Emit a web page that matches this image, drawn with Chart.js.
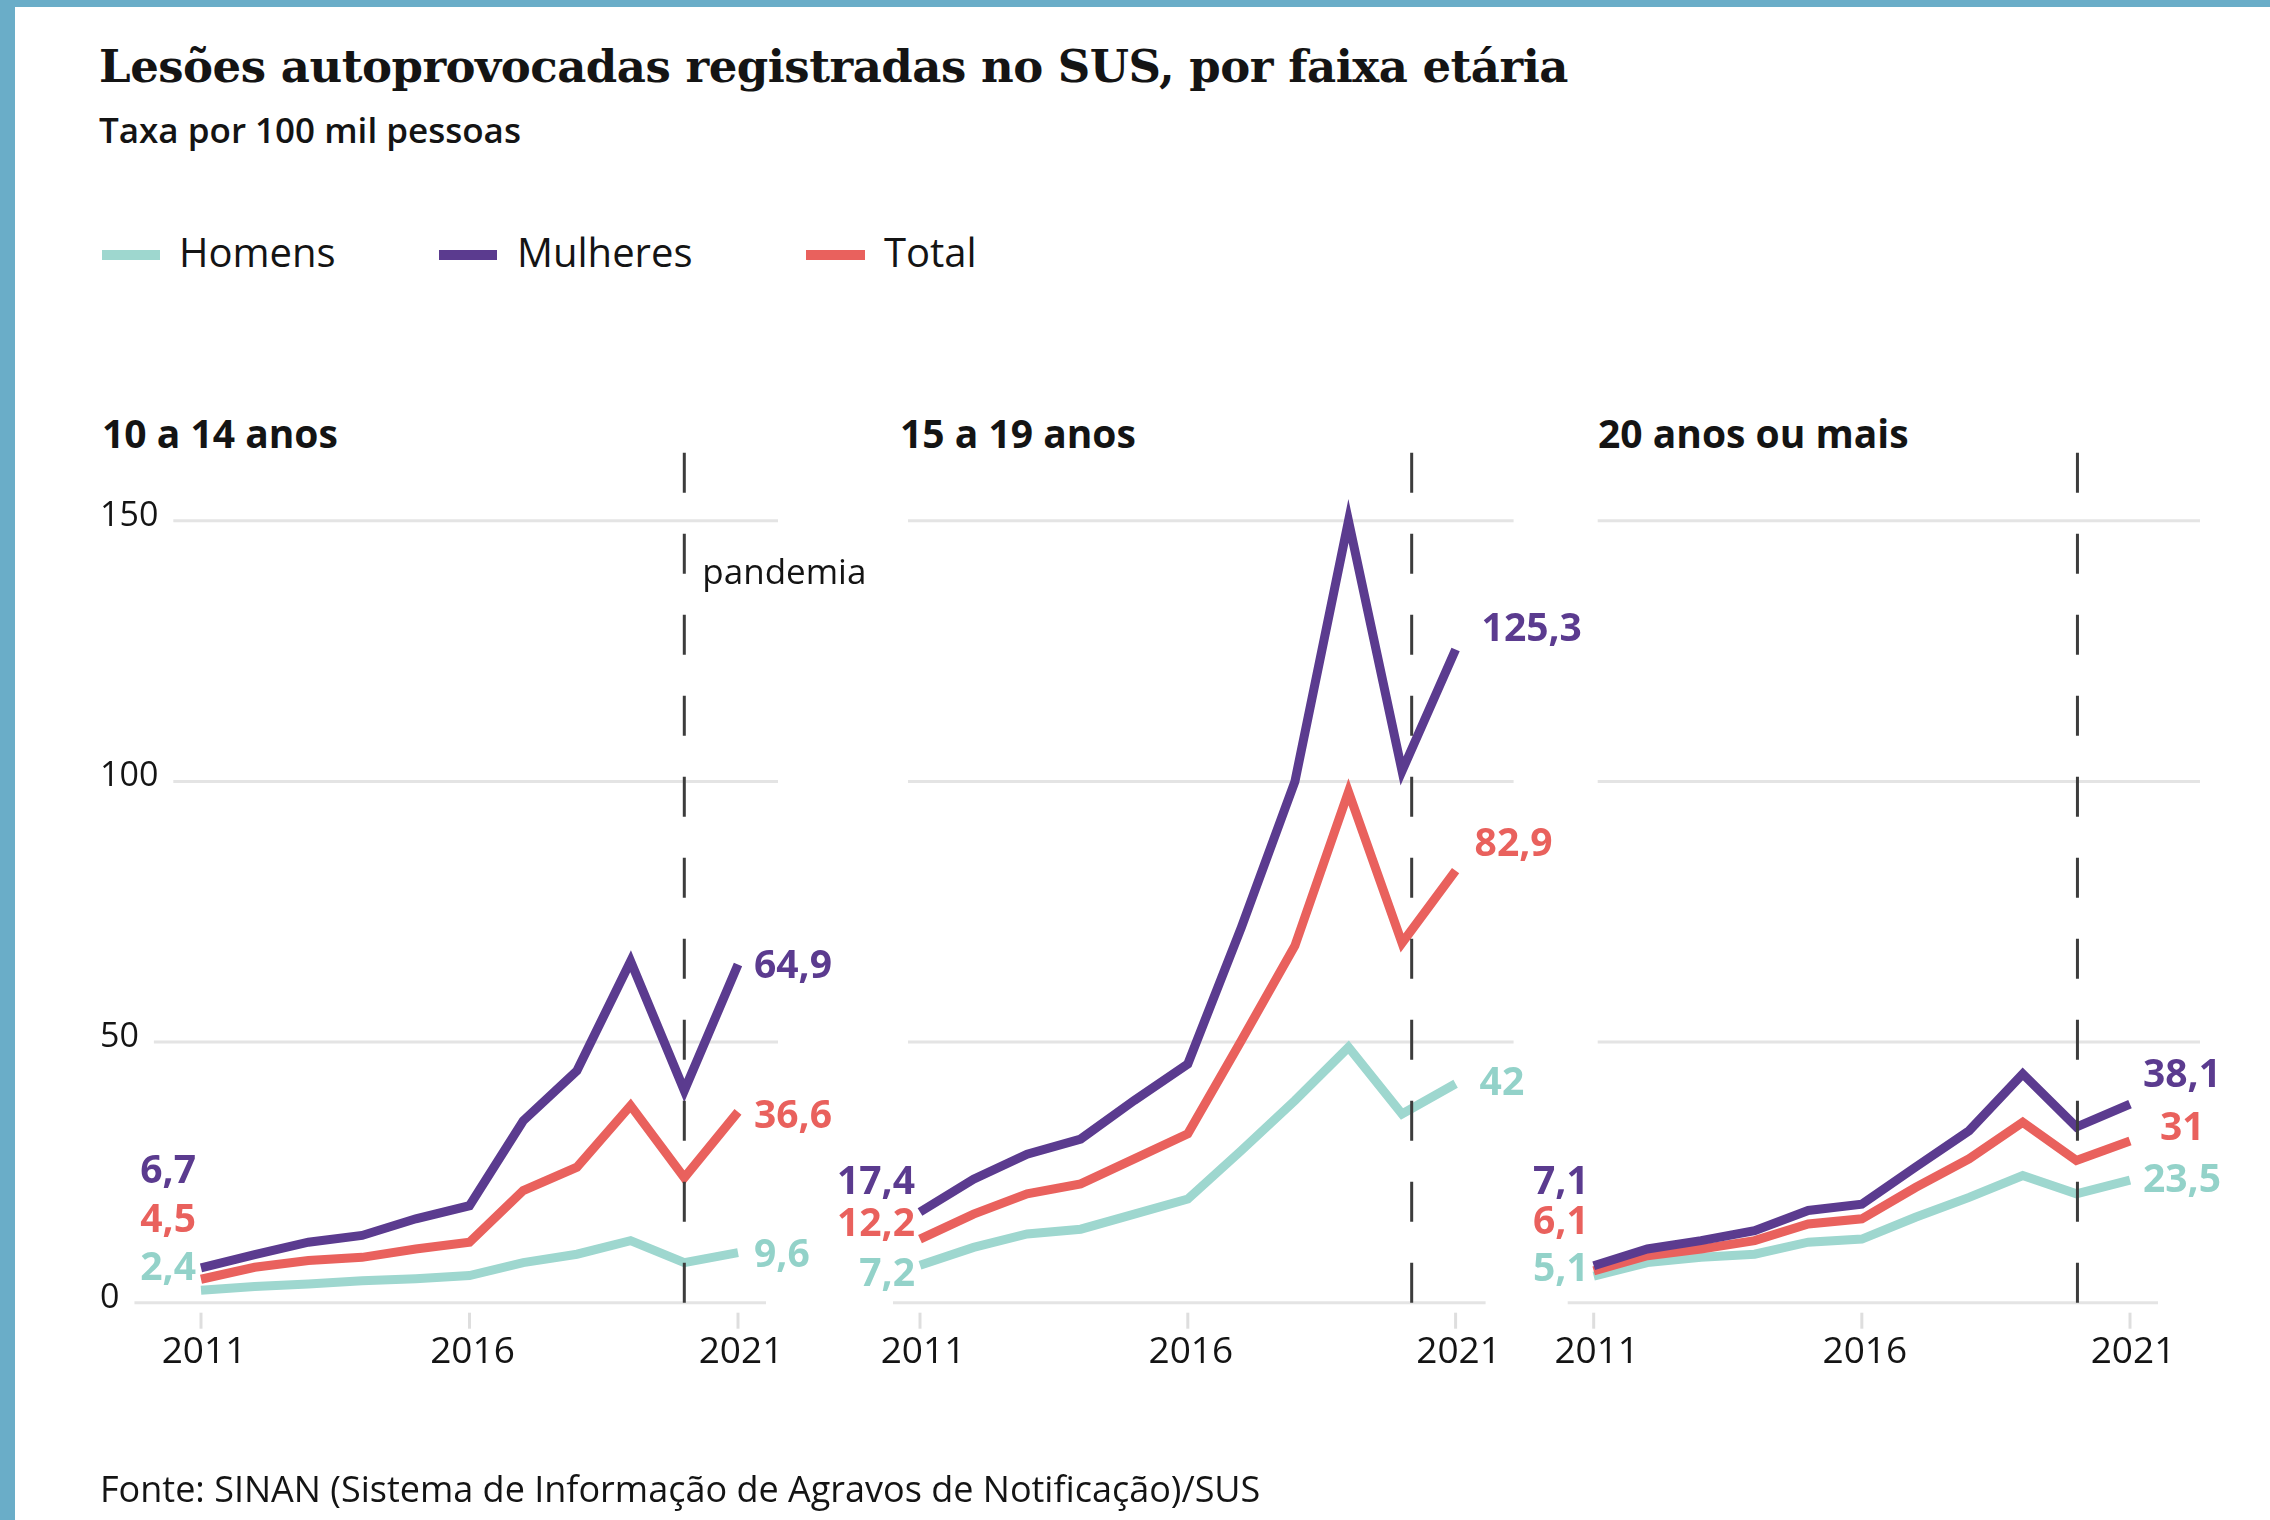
<!DOCTYPE html>
<html lang="pt-BR">
<head>
<meta charset="utf-8">
<title>Lesões autoprovocadas registradas no SUS</title>
<script src="https://cdn.jsdelivr.net/npm/chart.js@4.4.1/dist/chart.umd.min.js"></script>
<style>
html,body{margin:0;padding:0;background:#fff;}
body{width:2270px;height:1520px;position:relative;overflow:hidden;font-family:'Open Sans',sans-serif;color:#141414;}
#frameTop{position:absolute;left:0;top:0;width:2270px;height:7px;background:#6aadc8;}
#frameLeft{position:absolute;left:0;top:0;width:15px;height:1520px;background:#6aadc8;}
canvas{position:absolute;left:0;top:0;}
.t{position:absolute;white-space:nowrap;line-height:1;top:0;}
#title{left:99px;font-family:'DejaVu Serif',serif;font-weight:700;font-size:45px;letter-spacing:-0.5px;}
#subtitle{left:99px;font-weight:600;font-size:35px;}
.lg{font-size:40px;font-weight:400;}
.sw{position:absolute;height:10px;top:250px;}
.pt{font-weight:700;font-size:39px;}
#footer{left:100px;font-size:36px;font-weight:400;}
</style>
</head>
<body>
<div id="frameTop"></div>
<div id="frameLeft"></div>

<div class="t" id="title" data-base="82">Lesões autoprovocadas registradas no SUS, por faixa etária</div>
<div class="t" id="subtitle" data-base="143">Taxa por 100 mil pessoas</div>

<div class="sw" style="left:102px;width:58px;background:#9ed7cf"></div>
<div class="t lg" style="left:179px" data-base="267">Homens</div>
<div class="sw" style="left:439px;width:58px;background:#5b3b8f"></div>
<div class="t lg" style="left:517px" data-base="267">Mulheres</div>
<div class="sw" style="left:806px;width:59px;background:#e9615d"></div>
<div class="t lg" style="left:884px" data-base="267">Total</div>

<div class="t pt" style="left:102px" data-base="448" id="pt0"></div>
<div class="t pt" style="left:900px" data-base="448" id="pt1"></div>
<div class="t pt" style="left:1598px" data-base="448" id="pt2"></div>

<canvas id="c0" width="2270" height="1520"></canvas>
<canvas id="c1" width="2270" height="1520"></canvas>
<canvas id="c2" width="2270" height="1520"></canvas>

<div class="t" id="footer" data-base="1502">Fonte: SINAN (Sistema de Informação de Agravos de Notificação)/SUS</div>

<script>
// ---------- DATA ----------
const years = ['2011','2012','2013','2014','2015','2016','2017','2018','2019','2020','2021'];
const xTickYears = ['2011','2016','2021'];
const yTicks = [0, 50, 100, 150];
const panelTitles = ['10 a 14 anos', '15 a 19 anos', '20 anos ou mais'];
const seriesNames = ['Homens', 'Mulheres', 'Total'];
const pandemicLabel = 'pandemia';

// 10 a 14 anos
const homens1   = [2.4, 3.1, 3.6, 4.2, 4.6, 5.2, 7.7, 9.3, 11.9, 7.7, 9.6];
const mulheres1 = [6.7, 9.2, 11.6, 12.9, 16.1, 18.6, 34.9, 44.5, 65.5, 40.7, 64.9];
const total1    = [4.5, 6.8, 8.1, 8.7, 10.3, 11.6, 21.5, 26.0, 37.8, 24.0, 36.6];
// 15 a 19 anos
const homens2   = [7.2, 10.6, 13.2, 14.1, 17.0, 19.9, 29.2, 38.8, 49.0, 36.2, 42];
const mulheres2 = [17.4, 23.7, 28.5, 31.4, 38.8, 45.8, 72.0, 100.0, 150.0, 102.0, 125.3];
const total2    = [12.2, 17.0, 20.9, 22.8, 27.6, 32.4, 50.3, 68.5, 98.0, 69.0, 82.9];
// 20 anos ou mais
const homens3   = [5.1, 7.7, 8.7, 9.3, 11.6, 12.2, 16.4, 20.2, 24.4, 20.9, 23.5];
const mulheres3 = [7.1, 10.3, 11.9, 13.8, 17.7, 18.9, 26.0, 33.0, 43.9, 33.7, 38.1];
const total3    = [6.1, 9.0, 10.3, 11.9, 15.1, 16.1, 22.1, 27.6, 34.6, 27.3, 31];

// ---------- STYLE / LAYOUT ----------
const colors = { Homens: '#9ed7cf', Mulheres: '#5b3b8f', Total: '#e9615d' };
const labelColors = { Homens: '#93d2c9', Mulheres: '#5b3b8f', Total: '#e9615d' };
const FONT = '"Open Sans", sans-serif';

const panels = [
  { x0: 201, x1: 738, series: [homens1, mulheres1, total1], yLabels: true, pandemicAt: 9, showPandemicLabel: true,
    grid: { zeroStart: null, zeroEnd: 28, start: null, end: 40 },
    leftY: { Mulheres: 1169, Total: 1218, Homens: 1266 },
    right: { Mulheres: [16, 0], Total: [16, 2], Homens: [16, 0] } },
  { x0: 920, x1: 1455.6, series: [homens2, mulheres2, total2], yLabels: false, pandemicAt: 9.18, showPandemicLabel: false,
    grid: { zeroStart: -27, zeroEnd: 30, start: -12, end: 58 },
    leftY: { Mulheres: 1180, Total: 1222, Homens: 1272 },
    right: { Mulheres: [26, -23], Total: [19, -29], Homens: [24, -3] } },
  { x0: 1593.7, x1: 2130, series: [homens3, mulheres3, total3], yLabels: false, pandemicAt: 9.02, showPandemicLabel: false,
    grid: { zeroStart: -26, zeroEnd: 28, start: 4, end: 70 },
    leftY: { Mulheres: 1180, Total: 1220, Homens: 1267 },
    right: { Mulheres: [13, -31], Total: [30, -15], Homens: [13, -2] } }
];
const Y_TOP = 520.8, Y_BOTTOM = 1302.7, W = 2270, H = 1520;

function fmt(v){ return String(v).replace('.', ','); }

function makePlugin(p){
  return {
    id: 'panelDecor',
    beforeDatasetsDraw(chart){
      const ctx = chart.ctx, xs = chart.scales.x, ys = chart.scales.y;
      ctx.save();
      // y labels + gridlines
      ctx.font = '500 34px ' + FONT;
      ctx.textAlign = 'left';
      ctx.textBaseline = 'alphabetic';
      yTicks.forEach(v => {
        const y = ys.getPixelForValue(v);
        let start, end;
        if (p.yLabels){
          const w = ctx.measureText(String(v)).width;
          ctx.fillStyle = '#141414';
          ctx.fillText(String(v), 100, y + 5);
          start = 100 + w + 15;
        } else {
          start = xs.left + (v === 0 ? p.grid.zeroStart : p.grid.start);
        }
        end = xs.right + (v === 0 ? p.grid.zeroEnd : p.grid.end);
        ctx.strokeStyle = '#e4e4e4';
        ctx.lineWidth = 3;
        ctx.beginPath(); ctx.moveTo(start, y); ctx.lineTo(end, y); ctx.stroke();
      });
      // x tick marks + labels
      ctx.font = '400 37px ' + FONT;
      ctx.textAlign = 'center';
      xTickYears.forEach(lbl => {
        const x = xs.getPixelForValue(years.indexOf(lbl));
        ctx.strokeStyle = '#dedede'; ctx.lineWidth = 3;
        ctx.beginPath(); ctx.moveTo(x, ys.bottom + 10); ctx.lineTo(x, ys.bottom + 26); ctx.stroke();
        ctx.fillStyle = '#141414';
        ctx.fillText(lbl, x + 3, ys.bottom + 60);
      });
      ctx.restore();
    },
    afterDatasetsDraw(chart){
      const ctx = chart.ctx, xs = chart.scales.x, ys = chart.scales.y;
      ctx.save();
      // pandemic dashed line
      const px = xs.getPixelForValue(p.pandemicAt);
      ctx.strokeStyle = '#3c3c3c'; ctx.lineWidth = 3; ctx.setLineDash([40, 41]);
      ctx.beginPath(); ctx.moveTo(px, ys.bottom); ctx.lineTo(px, ys.top - 70); ctx.stroke();
      ctx.setLineDash([]);
      if (p.showPandemicLabel){
        ctx.font = '500 35px ' + FONT; ctx.fillStyle = '#141414'; ctx.textAlign = 'left';
        ctx.fillText(pandemicLabel, px + 18, 584);
      }
      // value labels
      ctx.font = '700 39px ' + FONT;
      chart.data.datasets.forEach(ds => {
        const name = ds.label, d = ds.data;
        ctx.fillStyle = labelColors[name];
        ctx.textAlign = 'right';
        ctx.fillText(fmt(d[0]), xs.left - 5, p.leftY[name] + 14);
        ctx.textAlign = 'left';
        const r = p.right[name];
        const ly = ys.getPixelForValue(d[d.length - 1]);
        ctx.fillText(fmt(d[d.length - 1]), xs.right + r[0], ly + r[1] + 14);
      });
      ctx.restore();
    }
  };
}

panels.forEach((p, i) => {
  document.getElementById('pt' + i).textContent = panelTitles[i];
  const order = { Homens: 3, Mulheres: 1, Total: 2 };
  new Chart(document.getElementById('c' + i), {
    type: 'line',
    data: {
      labels: years,
      datasets: seriesNames.map((n, k) => ({
        label: n, data: p.series[k], borderColor: colors[n], backgroundColor: colors[n],
        borderWidth: 9, pointRadius: 0, pointHoverRadius: 0, tension: 0, fill: false,
        borderJoinStyle: 'miter', borderCapStyle: 'butt', clip: false, order: order[n]
      }))
    },
    options: {
      responsive: false, animation: false, devicePixelRatio: 1,
      layout: { padding: { left: p.x0, right: W - p.x1, top: Y_TOP, bottom: H - Y_BOTTOM } },
      plugins: { legend: { display: false }, tooltip: { enabled: false }, title: { display: false } },
      events: [],
      scales: {
        x: { type: 'category', display: false, offset: false },
        y: { type: 'linear', display: false, min: 0, max: 150 }
      }
    },
    plugins: [makePlugin(p)]
  });
});

// place HTML texts by baseline
function placeTexts(){
  document.querySelectorAll('.t[data-base]').forEach(el => {
    el.style.top = '0px';
    const m = document.createElement('span');
    m.style.cssText = 'display:inline-block;width:0;height:0;';
    el.appendChild(m);
    const r = m.getBoundingClientRect();
    el.style.top = (+el.dataset.base - r.top) + 'px';
    el.removeChild(m);
  });
}
placeTexts();
if (document.fonts && document.fonts.ready) document.fonts.ready.then(placeTexts);
</script>
</body>
</html>
